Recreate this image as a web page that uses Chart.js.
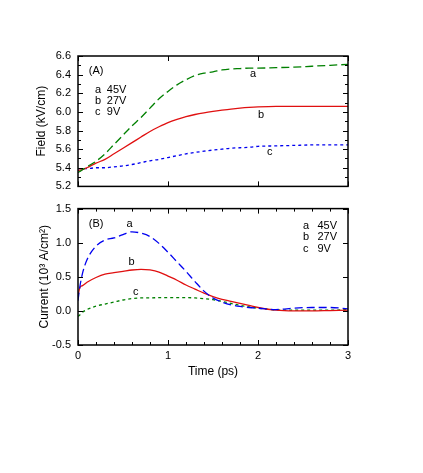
<!DOCTYPE html>
<html>
<head>
<meta charset="utf-8">
<script src="https://cdn.jsdelivr.net/npm/chart.js@4"></script>
<style>
  html, body { margin: 0; padding: 0; background: #fff; }
  #wrap { position: relative; width: 423px; height: 473px; }
  canvas { position: absolute; left: 0; }
</style>
</head>
<body>
<div id="wrap">
  <canvas id="fieldChart" width="423" height="160" style="top:40px"></canvas>
  <canvas id="currentChart" width="423" height="200" style="top:195px"></canvas>
</div>
<script>
// time axis (ps), shared by all series
const time = [0, 0.02, 0.05, 0.1, 0.2, 0.3, 0.4, 0.5, 0.6, 0.7, 0.8, 0.9, 1.0, 1.1, 1.2, 1.3,
              1.4, 1.5, 1.6, 1.7, 1.8, 1.9, 2.0, 2.2, 2.4, 2.6, 2.8, 3.0];

// panel (A): field, kV/cm
const field45 = [5.35, 5.36, 5.38, 5.41, 5.47, 5.55, 5.65, 5.75, 5.85, 5.94, 6.04, 6.14, 6.22, 6.29,
                 6.345, 6.39, 6.415, 6.43, 6.45, 6.46, 6.465, 6.47, 6.47, 6.475, 6.48, 6.49, 6.50, 6.51];
const field27 = [5.37, 5.375, 5.38, 5.40, 5.45, 5.49, 5.55, 5.61, 5.67, 5.73, 5.79, 5.84, 5.885, 5.92,
                 5.95, 5.972, 5.99, 6.005, 6.018, 6.03, 6.04, 6.048, 6.054, 6.06, 6.06, 6.06, 6.06, 6.06];
const field9  = [5.39, 5.39, 5.39, 5.39, 5.40, 5.40, 5.41, 5.42, 5.435, 5.455, 5.475, 5.49, 5.51, 5.53,
                 5.55, 5.565, 5.578, 5.59, 5.60, 5.61, 5.615, 5.62, 5.63, 5.635, 5.64, 5.645, 5.645, 5.645];

// panel (B): current, 10^3 A/cm^2
const current45 = [0.15, 0.35, 0.55, 0.75, 0.95, 1.04, 1.07, 1.12, 1.16, 1.14, 1.09, 0.99, 0.86, 0.72,
                   0.58, 0.43, 0.29, 0.19, 0.13, 0.09, 0.065, 0.05, 0.04, 0.02, 0.04, 0.05, 0.05, 0.03];
const current27 = [0.22, 0.34, 0.37, 0.42, 0.49, 0.54, 0.56, 0.58, 0.60, 0.61, 0.60, 0.57, 0.51, 0.45,
                   0.38, 0.32, 0.26, 0.21, 0.17, 0.14, 0.11, 0.08, 0.05, 0.01, 0.0, 0.0, 0.005, 0.01];
const current9  = [-0.08, -0.06, -0.02, 0.02, 0.07, 0.10, 0.13, 0.16, 0.18, 0.19, 0.19, 0.195, 0.195, 0.195,
                   0.195, 0.19, 0.18, 0.165, 0.14, 0.11, 0.08, 0.06, 0.04, 0.015, 0.01, 0.01, 0.01, 0.02];

const timeTicks = [0, 1, 2, 3];
const fieldTicks = [5.2, 5.4, 5.6, 5.8, 6.0, 6.2, 6.4, 6.6];
const currentTicks = [-0.5, 0.0, 0.5, 1.0, 1.5];

const GREEN = '#008000';
const RED = '#e01010';
const BLUE = '#0000f0';
const FONT = 'Liberation Sans, Arial, sans-serif';

Chart.defaults.font.family = FONT;
Chart.defaults.font.size = 11;
Chart.defaults.color = '#000';

const pts = vals => vals.map((v, i) => ({ x: time[i], y: v }));

function line(vals, color, dash) {
  return {
    data: pts(vals),
    borderColor: color,
    borderWidth: 1.3,
    borderDash: dash,
    pointRadius: 0,
    fill: false,
    cubicInterpolationMode: 'monotone',
  };
}

// frame around the plot area plus inward tick marks on all four sides
const frameTicks = {
  id: 'frameTicks',
  afterDraw(chart, args, opts) {
    const { ctx, chartArea: a, scales } = chart;
    const xs = scales.x, ys = scales.y;
    ctx.save();
    ctx.strokeStyle = '#000';
    ctx.lineWidth = 1.5;
    ctx.strokeRect(a.left, a.top, a.right - a.left, a.bottom - a.top);
    ctx.lineWidth = 1;
    const mark = (vals, len, horiz) => {
      vals.forEach(v => {
        ctx.beginPath();
        if (horiz) {
          const px = Math.round(xs.getPixelForValue(v)) + 0.5;
          ctx.moveTo(px, a.bottom); ctx.lineTo(px, a.bottom - len);
          ctx.moveTo(px, a.top); ctx.lineTo(px, a.top + len);
        } else {
          const py = Math.round(ys.getPixelForValue(v)) + 0.5;
          ctx.moveTo(a.left, py); ctx.lineTo(a.left + len, py);
          ctx.moveTo(a.right, py); ctx.lineTo(a.right - len, py);
        }
        ctx.stroke();
      });
    };
    const range = (lo, hi, step) => {
      const out = [];
      for (let v = lo; v <= hi + 1e-9; v += step) out.push(+v.toFixed(3));
      return out;
    };
    mark(range(xs.min, xs.max, opts.xMajor), 5, true);
    if (opts.xMinor) mark(range(xs.min, xs.max, opts.xMinor), 3, true);
    mark(range(ys.min, ys.max, opts.yMajor), 5, false);
    if (opts.yMinor) mark(range(ys.min, ys.max, opts.yMinor), 3, false);

    // text annotations placed at data coordinates
    ctx.fillStyle = '#000';
    ctx.font = '11px ' + FONT;
    ctx.textBaseline = 'middle';
    ctx.textAlign = 'left';
    (opts.notes || []).forEach(n => {
      ctx.fillText(n.text, xs.getPixelForValue(n.x), ys.getPixelForValue(n.y));
    });
    ctx.restore();
  },
};

function yScale(min, max, ticks, title, titlePad) {
  return {
    type: 'linear',
    min, max,
    afterBuildTicks: s => { s.ticks = ticks.map(v => ({ value: v })); },
    afterFit: s => { s.width = 78; },
    grid: { display: false, drawTicks: false },
    border: { display: false },
    ticks: { padding: 7, callback: v => v.toFixed(1) },
    title: { display: true, text: title, padding: { top: titlePad, bottom: 0 }, font: { size: 12 } },
  };
}

// panel (A)
new Chart(document.getElementById('fieldChart'), {
  type: 'line',
  data: {
    datasets: [
      line(field45, GREEN, [8, 4]),
      line(field27, RED, []),
      line(field9, BLUE, [3, 3]),
    ],
  },
  options: {
    responsive: false,
    animation: false,
    layout: { padding: { left: 0, right: 75, top: 16, bottom: 7 } },
    plugins: {
      legend: { display: false },
      tooltip: { enabled: false },
      frameTicks: {
        xMajor: 1, xMinor: 0, yMajor: 0.2, yMinor: 0.1,
        notes: [
          { text: '(A)', x: 0.12, y: 6.44 },
          { text: 'a', x: 0.19, y: 6.23 }, { text: '45V', x: 0.32, y: 6.23 },
          { text: 'b', x: 0.19, y: 6.12 }, { text: '27V', x: 0.32, y: 6.12 },
          { text: 'c', x: 0.19, y: 6.00 }, { text: '9V', x: 0.32, y: 6.00 },
          { text: 'a', x: 1.91, y: 6.41 },
          { text: 'b', x: 2.0, y: 5.965 },
          { text: 'c', x: 2.1, y: 5.57 },
        ],
      },
    },
    scales: {
      x: {
        type: 'linear', min: 0, max: 3,
        afterFit: s => { s.height = 0; },
        grid: { display: false, drawTicks: false },
        border: { display: false },
        ticks: { display: false },
      },
      y: yScale(5.2, 6.6, fieldTicks, 'Field (kV/cm)', 34),
    },
  },
  plugins: [frameTicks],
});

// panel (B)
new Chart(document.getElementById('currentChart'), {
  type: 'line',
  data: {
    datasets: [
      line(current45, BLUE, [8, 4]),
      line(current27, RED, []),
      line(current9, GREEN, [3, 3]),
    ],
  },
  options: {
    responsive: false,
    animation: false,
    layout: { padding: { left: 0, right: 75, top: 12, bottom: 10 } },
    plugins: {
      legend: { display: false },
      tooltip: { enabled: false },
      frameTicks: {
        xMajor: 1, xMinor: 0.2, yMajor: 0.5, yMinor: 0,
        notes: [
          { text: '(B)', x: 0.12, y: 1.28 },
          { text: 'a', x: 0.54, y: 1.27 },
          { text: 'b', x: 0.56, y: 0.72 },
          { text: 'c', x: 0.61, y: 0.28 },
          { text: 'a', x: 2.5, y: 1.25 }, { text: '45V', x: 2.66, y: 1.25 },
          { text: 'b', x: 2.5, y: 1.08 }, { text: '27V', x: 2.66, y: 1.08 },
          { text: 'c', x: 2.5, y: 0.91 }, { text: '9V', x: 2.66, y: 0.91 },
        ],
      },
    },
    scales: {
      x: {
        type: 'linear', min: 0, max: 3,
        afterBuildTicks: s => { s.ticks = timeTicks.map(v => ({ value: v })); },
        afterFit: s => { s.height = 40; },
        grid: { display: false, drawTicks: false },
        border: { display: false },
        ticks: { padding: 4, callback: v => String(v) },
        title: { display: true, text: 'Time (ps)', padding: { top: 0, bottom: 6 }, font: { size: 12 } },
      },
      y: yScale(-0.5, 1.5, currentTicks, 'Current (10³ A/cm²)', 37),
    },
  },
  plugins: [frameTicks],
});
</script>
</body>
</html>
